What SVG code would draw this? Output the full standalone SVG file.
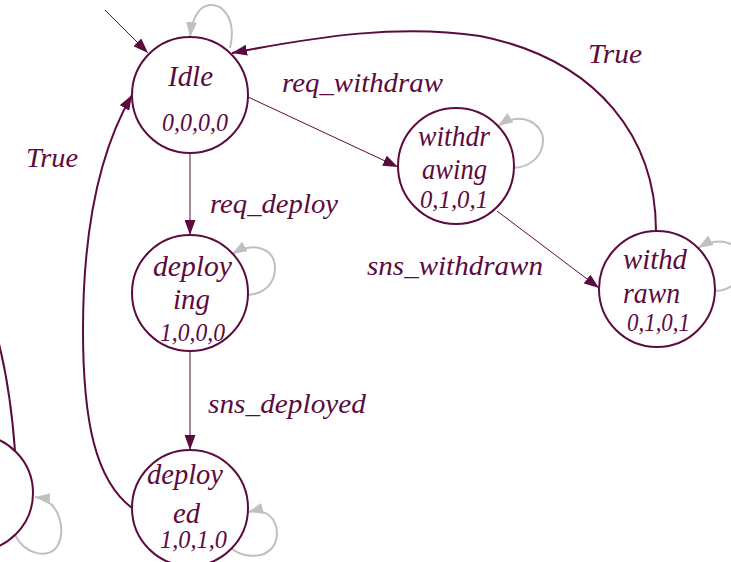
<svg xmlns="http://www.w3.org/2000/svg" width="731" height="562" viewBox="0 0 731 562">
  <style>
    .node circle { fill: #ffffff; stroke: #5c0b3e; stroke-width: 2; }
    text { font-family: "Liberation Serif", "Times New Roman", serif; font-style: italic; fill: #5c0b3e; }
    .name { font-size: 30px; }
    .code { font-size: 25px; }
    .lbl { font-size: 28px; }
    .edge { fill: none; stroke: #5c0b3e; }
    .thin { stroke-width: 1; marker-end: url(#head); }
    .thick { stroke-width: 2; marker-end: url(#head); }
    .loop { fill: none; stroke: #c0c0c0; stroke-width: 2; marker-end: url(#grayhead); }
  </style>
  <defs>
    <marker id="head" viewBox="0 0 15 11" refX="15" refY="5.5" markerWidth="15" markerHeight="11" markerUnits="userSpaceOnUse" orient="auto">
      <path d="M0,0 L15,5.5 L0,11 z" fill="#5c0b3e"/>
    </marker>
    <marker id="grayhead" viewBox="0 0 15 11" refX="15" refY="5.5" markerWidth="15" markerHeight="11" markerUnits="userSpaceOnUse" orient="auto">
      <path d="M0,0 L15,5.5 L0,11 z" fill="#c0c0c0"/>
    </marker>
  </defs>
  <rect width="731" height="562" fill="#ffffff"/>

  <!-- transitions -->
  <g id="edges">
    <path class="edge thin" d="M105,10 L148,53"/>
    <path class="edge thin" d="M248,97 L398,167"/>
    <path class="edge thin" d="M190,153 L190,235"/>
    <path class="edge thin" d="M190,351 L190,450"/>
    <path class="edge thin" d="M497,211 L599,288"/>
    <path class="edge thick" d="M656,231 C656,140 600,60 480,36 C400,24 320,36 232,53"/>
    <path class="edge thick" d="M132,508 C95,480 83,420 83,330 C83,230 100,150 132,95"/>
    <path class="edge" stroke-width="2" d="M15,451 C12,410 7,375 -2,340"/>
    <!-- self loops -->
    <path class="loop" d="M230,48 C237,18 222,4 210,5 C199,6 192,18 190,37"/>
    <path class="loop" d="M513,168 C533,167 543,154 543,140 C543,124 522,110 498,126"/>
    <path class="loop" d="M247,295 C265,294 275,283 275,268 C275,250 256,240 232,254"/>
    <path class="loop" d="M716,291 C734,290 743,276 743,263 C743,245 722,234 698,248"/>
    <path class="loop" d="M230,547 C240,557 262,560 272,548 C283,535 276,505 248,512"/>
    <path class="loop" d="M15,535 C25,555 50,560 58,545 C66,530 60,500 35,497"/>
    <!-- transition labels -->
    <text class="lbl" x="282" y="92" textLength="161" lengthAdjust="spacingAndGlyphs">req_withdraw</text>
    <text class="lbl" x="588" y="63" textLength="54" lengthAdjust="spacingAndGlyphs">True</text>
    <text class="lbl" x="26" y="167" textLength="52" lengthAdjust="spacingAndGlyphs">True</text>
    <text class="lbl" x="210" y="213" textLength="128" lengthAdjust="spacingAndGlyphs">req_deploy</text>
    <text class="lbl" x="367" y="275" textLength="176" lengthAdjust="spacingAndGlyphs">sns_withdrawn</text>
    <text class="lbl" x="208" y="413" textLength="158" lengthAdjust="spacingAndGlyphs">sns_deployed</text>
  </g>

  <!-- states -->
  <g id="idle" class="node">
    <circle cx="190" cy="95" r="58"/>
    <text class="name" x="168" y="86" textLength="45" lengthAdjust="spacingAndGlyphs">Idle</text>
    <text class="code" x="162" y="131" textLength="66" lengthAdjust="spacingAndGlyphs">0,0,0,0</text>
  </g>
  <g id="withdrawing" class="node">
    <circle cx="456" cy="166" r="58"/>
    <text class="name" x="418" y="146" textLength="72" lengthAdjust="spacingAndGlyphs">withdr</text>
    <text class="name" x="422" y="179" textLength="65" lengthAdjust="spacingAndGlyphs">awing</text>
    <text class="code" x="420" y="208" textLength="68" lengthAdjust="spacingAndGlyphs">0,1,0,1</text>
  </g>
  <g id="withdrawn" class="node">
    <circle cx="657" cy="289" r="58"/>
    <text class="name" x="623" y="269" textLength="64" lengthAdjust="spacingAndGlyphs">withd</text>
    <text class="name" x="623" y="303" textLength="57" lengthAdjust="spacingAndGlyphs">rawn</text>
    <text class="code" x="627" y="331" textLength="63" lengthAdjust="spacingAndGlyphs">0,1,0,1</text>
  </g>
  <g id="deploying" class="node">
    <circle cx="190" cy="293" r="58"/>
    <text class="name" x="153" y="276" textLength="79" lengthAdjust="spacingAndGlyphs">deploy</text>
    <text class="name" x="173" y="309" textLength="37" lengthAdjust="spacingAndGlyphs">ing</text>
    <text class="code" x="160" y="341" textLength="65" lengthAdjust="spacingAndGlyphs">1,0,0,0</text>
  </g>
  <g id="deployed" class="node">
    <circle cx="190" cy="508" r="58"/>
    <text class="name" x="147" y="484" textLength="76" lengthAdjust="spacingAndGlyphs">deploy</text>
    <text class="name" x="173" y="523" textLength="27" lengthAdjust="spacingAndGlyphs">ed</text>
    <text class="code" x="160" y="548" textLength="67" lengthAdjust="spacingAndGlyphs">1,0,1,0</text>
  </g>
  <g id="offscreen-state" class="node">
    <circle cx="-25" cy="493" r="58"/>
  </g>
</svg>
